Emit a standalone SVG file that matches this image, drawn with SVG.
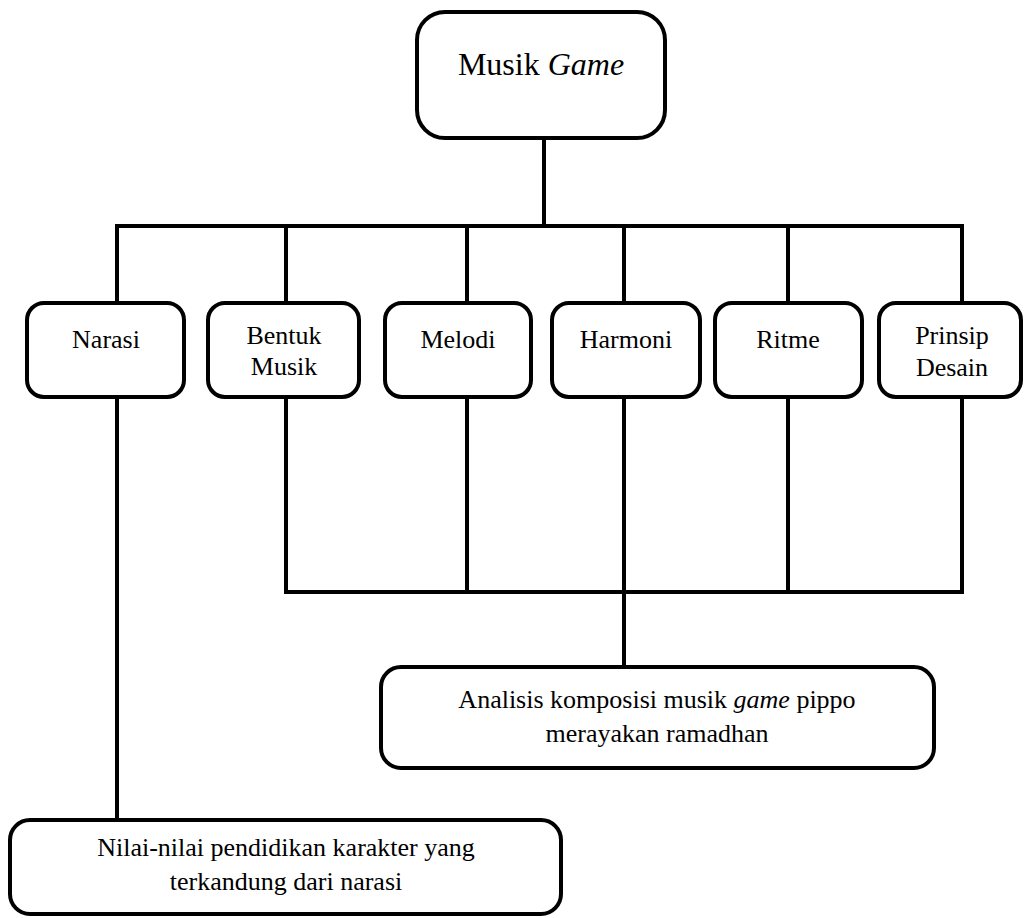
<svg xmlns="http://www.w3.org/2000/svg" width="1024" height="918" viewBox="0 0 1024 918" font-family="'Liberation Serif', 'Times New Roman', Tinos, 'DejaVu Serif', serif">
<style>
.box{fill:#fff;stroke:#000;stroke-width:4}
.ln{fill:none;stroke:#000;stroke-width:4}
text{font-family:'Liberation Serif','Times New Roman',Tinos,'DejaVu Serif',serif;fill:#000;text-anchor:middle;font-size:26px}
.big{font-size:32px}
</style>
<rect width="1024" height="918" fill="#fff"/>
<g id="connectors">
<path class="ln" d="M544 138V226"/>
<path class="ln" d="M117 303V226H962V303"/>
<path class="ln" d="M286 226V303M467 226V303M624 226V303M788 226V303"/>
<path class="ln" d="M117 397V820"/>
<path class="ln" d="M286 397V592H962V397"/>
<path class="ln" d="M467 397V592M624 397V667M788 397V592"/>
</g>
<g id="musik-game">
<rect class="box" x="417" y="12" width="248" height="126" rx="28"/>
<text class="big" x="541" y="75">Musik <tspan font-style="italic">Game</tspan></text>
</g>
<g id="narasi">
<rect class="box" x="27" y="303" width="157" height="94" rx="17"/>
<text x="106" y="348">Narasi</text>
</g>
<g id="bentuk-musik">
<rect class="box" x="208" y="303" width="151" height="94" rx="17"/>
<text x="284" y="344">Bentuk</text>
<text x="284" y="375">Musik</text>
</g>
<g id="melodi">
<rect class="box" x="385" y="303" width="146" height="94" rx="17"/>
<text x="458" y="348">Melodi</text>
</g>
<g id="harmoni">
<rect class="box" x="552" y="303" width="148" height="94" rx="17"/>
<text x="626" y="348">Harmoni</text>
</g>
<g id="ritme">
<rect class="box" x="715" y="303" width="147" height="94" rx="17"/>
<text x="788" y="348">Ritme</text>
</g>
<g id="prinsip-desain">
<rect class="box" x="879" y="303" width="142" height="94" rx="17"/>
<text x="952" y="344">Prinsip</text>
<text x="952" y="376">Desain</text>
</g>
<g id="analisis">
<rect class="box" x="381" y="667" width="553" height="101" rx="20"/>
<text x="657" y="708">Analisis komposisi musik <tspan font-style="italic">game</tspan> pippo</text>
<text x="657" y="742">merayakan ramadhan</text>
</g>
<g id="nilai">
<rect class="box" x="10" y="820" width="551" height="94" rx="20"/>
<text x="286" y="856">Nilai-nilai pendidikan karakter yang</text>
<text x="286" y="890">terkandung dari narasi</text>
</g>
</svg>
